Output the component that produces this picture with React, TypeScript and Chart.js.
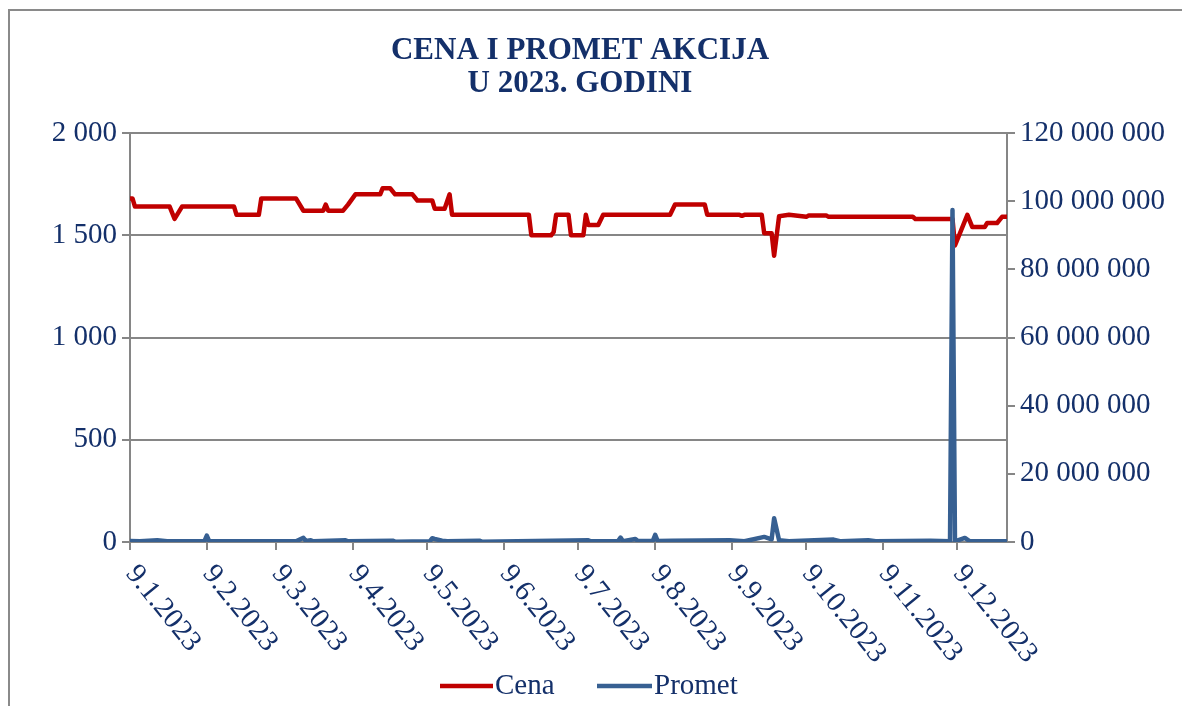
import React, { useEffect, useRef } from "react";
import { Chart, registerables } from "chart.js";

Chart.register(...registerables);

// ---------- data ----------
const titleLines = ["CENA I PROMET AKCIJA", "U 2023. GODINI"];

const xStartDate = "9.1.2023";
const xEndDate = "29.12.2023";
const xTickLabels = [
  "9.1.2023", "9.2.2023", "9.3.2023", "9.4.2023", "9.5.2023", "9.6.2023",
  "9.7.2023", "9.8.2023", "9.9.2023", "9.10.2023", "9.11.2023", "9.12.2023",
];

const leftTicks = [0, 500, 1000, 1500, 2000];
const rightTicks = [0, 20000000, 40000000, 60000000, 80000000, 100000000, 120000000];

const seriesNames = ["Cena", "Promet"];

const cenaDates = [
  "9.1.2023", "10.1.2023", "11.1.2023", "25.1.2023", "27.1.2023", "30.1.2023", "20.2.2023",
  "21.2.2023", "2.3.2023", "3.3.2023", "17.3.2023", "20.3.2023", "28.3.2023",
  "29.3.2023", "30.3.2023", "5.4.2023", "7.4.2023", "10.4.2023", "20.4.2023",
  "21.4.2023", "24.4.2023", "26.4.2023", "3.5.2023", "5.5.2023", "11.5.2023",
  "12.5.2023", "16.5.2023", "18.5.2023", "19.5.2023", "19.6.2023", "20.6.2023",
  "28.6.2023", "29.6.2023", "30.6.2023", "5.7.2023", "6.7.2023", "11.7.2023",
  "12.7.2023", "13.7.2023", "17.7.2023", "19.7.2023", "15.8.2023", "17.8.2023",
  "29.8.2023", "30.8.2023", "12.9.2023", "13.9.2023", "14.9.2023", "21.9.2023",
  "22.9.2023", "25.9.2023", "26.9.2023", "28.9.2023", "2.10.2023", "9.10.2023",
  "10.10.2023", "17.10.2023", "18.10.2023", "21.11.2023", "22.11.2023", "7.12.2023",
  "8.12.2023", "13.12.2023", "15.12.2023", "20.12.2023", "21.12.2023", "25.12.2023",
  "27.12.2023", "29.12.2023",
];
const cenaValues = [
  1680, 1680, 1640, 1640, 1580, 1640, 1640,
  1600, 1600, 1680, 1680, 1620, 1620,
  1650, 1620, 1620, 1650, 1700, 1700,
  1730, 1730, 1700, 1700, 1670, 1670,
  1630, 1630, 1700, 1600, 1600, 1500,
  1500, 1515, 1600, 1600, 1500, 1500,
  1600, 1550, 1550, 1600, 1600, 1650,
  1650, 1600, 1600, 1595, 1600, 1600,
  1510, 1510, 1400, 1593, 1600, 1590,
  1597, 1597, 1590, 1590, 1580, 1580,
  1450, 1600, 1540, 1540, 1560, 1560,
  1590, 1590,
];

const prometDates = [
  "9.1.2023", "13.1.2023", "20.1.2023", "24.1.2023", "8.2.2023", "9.2.2023",
  "10.2.2023", "17.3.2023", "20.3.2023", "21.3.2023", "23.3.2023", "24.3.2023",
  "6.4.2023", "7.4.2023", "25.4.2023", "26.4.2023", "10.5.2023", "11.5.2023",
  "12.5.2023", "15.5.2023", "17.5.2023", "30.5.2023", "31.5.2023", "13.7.2023",
  "14.7.2023", "25.7.2023", "26.7.2023", "27.7.2023", "1.8.2023", "2.8.2023",
  "8.8.2023", "9.8.2023", "10.8.2023", "16.8.2023", "8.9.2023", "14.9.2023",
  "22.9.2023", "25.9.2023", "26.9.2023", "28.9.2023", "2.10.2023", "20.10.2023",
  "23.10.2023", "3.11.2023", "6.11.2023", "28.11.2023", "6.12.2023", "7.12.2023",
  "8.12.2023", "12.12.2023", "14.12.2023", "29.12.2023",
];
const prometValues = [
  300000, 200000, 500000, 200000, 200000, 1900000,
  200000, 200000, 1200000, 300000, 500000, 200000,
  500000, 200000, 400000, 100000, 200000, 1100000,
  900000, 400000, 200000, 400000, 100000, 500000,
  200000, 300000, 1300000, 200000, 900000, 300000,
  300000, 2100000, 300000, 400000, 500000, 200000,
  1500000, 800000, 7000000, 500000, 200000, 700000,
  200000, 500000, 200000, 400000, 200000, 97400000,
  200000, 1200000, 200000, 200000,
];

// ---------- styling ----------
const NAVY = "#14306a";
const GRID = "#868686";
const RED = "#C00000";
const BLUE = "#376092";
const FONT = "'Liberation Serif', 'Times New Roman', serif";

function dayOfYear(s: string): number {
  const [d, m, y] = s.split(".").map((p) => parseInt(p, 10));
  return Math.round((Date.UTC(y, m - 1, d) - Date.UTC(y, 0, 0)) / 86400000);
}

function fmt(v: number): string {
  return String(Math.round(v)).replace(/\B(?=(\d{3})+(?!\d))/g, " ");
}

const decorPlugin = {
  id: "decor",
  beforeDraw(chart: any) {
    const ctx = chart.ctx;
    ctx.save();
    ctx.fillStyle = "#ffffff";
    ctx.fillRect(0, 0, chart.width, chart.height);
    ctx.fillStyle = "#8a8a8a";
    ctx.fillRect(8, 9, chart.width - 8, 2);
    ctx.fillRect(8, 9, 2, chart.height - 9);
    ctx.restore();
  },
  afterDraw(chart: any) {
    const ctx = chart.ctx;
    const xs = chart.scales.x;
    const area = chart.chartArea;
    ctx.save();
    // title
    ctx.font = `bold 31px ${FONT}`;
    ctx.fillStyle = NAVY;
    ctx.textAlign = "center";
    ctx.textBaseline = "middle";
    titleLines.forEach((t, i) => ctx.fillText(t, 580, 51 + i * 33));

    // rotated date labels
    ctx.font = `29px ${FONT}`;
    ctx.textAlign = "left";
    const ang = (51 * Math.PI) / 180;
    xTickLabels.forEach((lab) => {
      const px = xs.getPixelForValue(dayOfYear(lab));
      ctx.save();
      ctx.translate(px + 1, area.bottom + 27);
      ctx.rotate(ang);
      ctx.fillText(lab, 0, 0);
      ctx.restore();
    });
    // legend
    const ly = 686;
    const items = [
      { name: seriesNames[0], color: RED, x0: 440, x1: 493 },
      { name: seriesNames[1], color: BLUE, x0: 597, x1: 652 },
    ];
    items.forEach((it) => {
      ctx.strokeStyle = it.color;
      ctx.lineWidth = 4.5;
      ctx.lineCap = "butt";
      ctx.beginPath();
      ctx.moveTo(it.x0, ly);
      ctx.lineTo(it.x1, ly);
      ctx.stroke();
      ctx.fillStyle = NAVY;
      ctx.textBaseline = "middle";
      ctx.fillText(it.name, it.x1 + 2, ly);
    });
    ctx.restore();
  },
};

export default function App() {
  const ref = useRef<HTMLCanvasElement | null>(null);

  useEffect(() => {
    if (!ref.current) return;
    const chart = new Chart(ref.current, {
      type: "line",
      data: {
        datasets: [
          {
            label: seriesNames[0],
            data: cenaDates.map((d, i) => ({ x: dayOfYear(d), y: cenaValues[i] })),
            borderColor: RED,
            backgroundColor: RED,
            borderWidth: 4.5,
            pointRadius: 0,
            tension: 0,
            borderJoinStyle: "round",
            borderCapStyle: "round",
            yAxisID: "y",
            order: 2,
          },
          {
            label: seriesNames[1],
            data: prometDates.map((d, i) => ({ x: dayOfYear(d), y: prometValues[i] })),
            borderColor: BLUE,
            backgroundColor: BLUE,
            borderWidth: 4.5,
            pointRadius: 0,
            tension: 0,
            borderJoinStyle: "round",
            borderCapStyle: "round",
            yAxisID: "y2",
            order: 1,
          },
        ],
      },
      options: {
        animation: false,
        responsive: false,
        devicePixelRatio: 1,
        layout: { padding: { left: 0, right: 0, top: 133, bottom: 0 } },
        plugins: {
          legend: { display: false },
          tooltip: { enabled: false },
          title: { display: false },
        },
        scales: {
          x: {
            type: "linear",
            min: dayOfYear(xStartDate),
            max: dayOfYear(xEndDate),
            afterBuildTicks: (scale: any) => {
              scale.ticks = xTickLabels.map((l) => ({ value: dayOfYear(l) }));
            },
            afterFit: (scale: any) => {
              scale.height = 164;
            },
            ticks: { display: false },
            grid: { drawOnChartArea: false, color: GRID, lineWidth: 2, tickLength: 8 },
            border: { display: true, color: GRID, width: 2 },
          },
          y: {
            type: "linear",
            position: "left",
            min: leftTicks[0],
            max: leftTicks[leftTicks.length - 1],
            afterBuildTicks: (scale: any) => {
              scale.ticks = leftTicks.map((v) => ({ value: v }));
            },
            afterFit: (scale: any) => {
              scale.width = 130;
            },
            ticks: {
              color: NAVY,
              font: { family: FONT, size: 29 },
              padding: 5,
              callback: (v: any) => fmt(Number(v)),
            },
            grid: { color: GRID, lineWidth: 2, tickLength: 8 },
            border: { display: true, color: GRID, width: 2 },
          },
          y2: {
            type: "linear",
            position: "right",
            min: rightTicks[0],
            max: rightTicks[rightTicks.length - 1],
            afterBuildTicks: (scale: any) => {
              scale.ticks = rightTicks.map((v) => ({ value: v }));
            },
            afterFit: (scale: any) => {
              scale.width = 175;
            },
            ticks: {
              color: NAVY,
              font: { family: FONT, size: 29 },
              padding: 5,
              callback: (v: any) => fmt(Number(v)),
            },
            grid: { drawOnChartArea: false, color: GRID, lineWidth: 2, tickLength: 8 },
            border: { display: true, color: GRID, width: 2 },
          },
        },
      },
      plugins: [decorPlugin],
    } as any);
    return () => chart.destroy();
  }, []);

  return (
    <div style={{ position: "absolute", left: 0, top: 0, width: 1182, height: 706, background: "#fff" }}>
      <canvas ref={ref} width={1182} height={706} style={{ display: "block" }} />
    </div>
  );
}
